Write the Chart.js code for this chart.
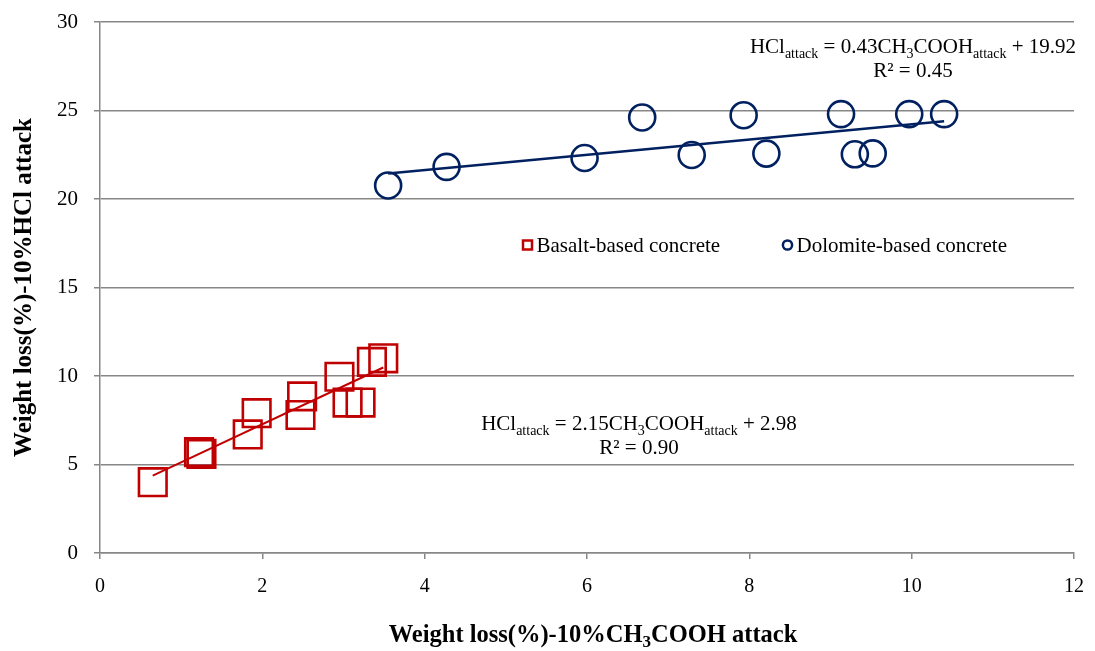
<!DOCTYPE html>
<html>
<head>
<meta charset="utf-8">
<script src="https://cdn.jsdelivr.net/npm/chart.js@4.4.0/dist/chart.umd.min.js"></script>
<style>
  html, body { margin: 0; padding: 0; background: #fff; overflow: hidden; }
  #wrap { width: 1100px; height: 651px; }
</style>
</head>
<body>
<div id="wrap"><canvas id="myChart"></canvas></div>
<script>
// weight loss (%) in 10% CH3COOH vs 10% HCl
const basaltX = [0.65, 1.22, 1.25, 1.82, 1.93, 2.47, 2.49, 2.95, 3.05, 3.21, 3.35, 3.49];
const basaltY = [4.0, 5.7, 5.6, 6.7, 7.9, 7.8, 8.85, 9.96, 8.5, 8.5, 10.8, 11.0];
const dolomiteX = [3.55, 4.27, 5.97, 6.68, 7.29, 7.93, 8.21, 9.13, 9.30, 9.52, 9.97, 10.4];
const dolomiteY = [20.77, 21.82, 22.32, 24.61, 22.49, 24.74, 22.57, 24.8, 22.53, 22.58, 24.8, 24.8];

// linear fits: [basalt, dolomite]
const fitSlope = [2.15, 0.43];
const fitIntercept = [2.98, 19.92];
const fitR2 = ["0.90", "0.45"];

const seriesNames = ["Basalt-based concrete", "Dolomite-based concrete"];
const seriesColors = ["#C00000", "#002060"];

const xMin = 0, xMax = 12, xStep = 2;
const yMin = 0, yMax = 30, yStep = 5;

const serif = "'Liberation Serif', 'Times New Roman', serif";
const gridGrey = "#878787";

function toPoints(xs, ys) {
  return xs.map((x, i) => ({ x: x, y: ys[i] }));
}

function fitLine(xs, k) {
  const a = Math.min(...xs), b = Math.max(...xs);
  return [
    { x: a, y: fitSlope[k] * a + fitIntercept[k] },
    { x: b, y: fitSlope[k] * b + fitIntercept[k] }
  ];
}

// draws text made of normal and subscript pieces, centred on cx
function drawRich(ctx, parts, cx, baseline, size, weight) {
  const big = (weight || "") + " " + size + "px " + serif;
  const small = (weight || "") + " " + Math.round(size * 0.68) + "px " + serif;
  let total = 0;
  parts.forEach(p => {
    ctx.font = p[1] ? small : big;
    total += ctx.measureText(p[0]).width;
  });
  let x = cx - total / 2;
  ctx.textAlign = "left";
  ctx.textBaseline = "alphabetic";
  parts.forEach(p => {
    ctx.font = p[1] ? small : big;
    ctx.fillText(p[0], x, baseline + (p[1] ? size * 0.22 : 0));
    x += ctx.measureText(p[0]).width;
  });
}

function equationParts(k) {
  return [
    ["HCl", false], ["attack", true],
    [" = " + fitSlope[k].toFixed(2) + "CH", false], ["3", true],
    ["COOH", false], ["attack", true],
    [" + " + fitIntercept[k].toFixed(2), false]
  ];
}

const annotations = {
  id: "annotations",
  afterDraw(chart) {
    const ctx = chart.ctx;
    ctx.save();
    ctx.fillStyle = "#000";

    // equations of the fits
    drawRich(ctx, equationParts(1), 913, 53, 21);
    drawRich(ctx, [["R² = " + fitR2[1], false]], 913, 77, 21);
    drawRich(ctx, equationParts(0), 639, 430, 21);
    drawRich(ctx, [["R² = " + fitR2[0], false]], 639, 454, 21);

    // legend inside plot
    const legendY = 245;
    const items = [
      { x: 527.5, style: "rect" },
      { x: 787.5, style: "circle" }
    ];
    items.forEach((it, k) => {
      ctx.strokeStyle = seriesColors[k];
      ctx.lineWidth = 2.5;
      ctx.beginPath();
      if (it.style === "rect") {
        ctx.rect(it.x - 4.5, legendY - 4.5, 9, 9);
      } else {
        ctx.arc(it.x, legendY, 4.6, 0, Math.PI * 2);
      }
      ctx.stroke();
      ctx.font = "21px " + serif;
      ctx.textAlign = "left";
      ctx.textBaseline = "middle";
      ctx.fillText(chart.data.datasets[k].label, it.x + 9, legendY + 1);
    });

    // x axis title with subscript
    const area = chart.chartArea;
    drawRich(ctx, [["Weight loss(%)-10%CH", false], ["3", true], ["COOH attack", false]],
      (area.left + area.right) / 2 + 6, 642, 24.5, "bold");
    ctx.restore();
  }
};

const data = {
  datasets: [
    {
      label: seriesNames[0],
      data: toPoints(basaltX, basaltY),
      pointStyle: "rect",
      pointRadius: 19.5,
      borderWidth: 2.6,
      borderColor: seriesColors[0],
      backgroundColor: "rgba(0,0,0,0)"
    },
    {
      label: seriesNames[1],
      data: toPoints(dolomiteX, dolomiteY),
      pointStyle: "circle",
      pointRadius: 13,
      borderWidth: 2.6,
      borderColor: seriesColors[1],
      backgroundColor: "rgba(0,0,0,0)"
    },
    {
      label: "fit basalt",
      data: fitLine(basaltX, 0),
      showLine: true,
      pointRadius: 0,
      borderWidth: 2,
      borderColor: seriesColors[0]
    },
    {
      label: "fit dolomite",
      data: fitLine(dolomiteX, 1),
      showLine: true,
      pointRadius: 0,
      borderWidth: 2.5,
      borderColor: seriesColors[1]
    }
  ]
};

const config = {
  type: "scatter",
  data: data,
  options: {
    responsive: true,
    maintainAspectRatio: false,
    animation: false,
    events: [],
    layout: { padding: { top: 20, right: 0, left: 0, bottom: 0 } },
    plugins: {
      legend: { display: false },
      tooltip: { enabled: false }
    },
    scales: {
      x: {
        type: "linear",
        min: xMin,
        max: xMax,
        afterFit: function(scale) {
          scale.height = 98;
        },
        ticks: {
          stepSize: xStep,
          padding: 16,
          color: "#000",
          font: { family: serif, size: 20 }
        },
        grid: {
          drawOnChartArea: false,
          drawTicks: true,
          tickLength: 6,
          color: gridGrey,
          lineWidth: 1.5
        },
        border: { color: gridGrey, width: 1.5 }
      },
      y: {
        type: "linear",
        min: yMin,
        max: yMax,
        afterFit: function(scale) {
          scale.width = 100;
          scale.paddingTop = 0;
          scale.paddingBottom = 0;
        },
        ticks: {
          stepSize: yStep,
          padding: 16,
          color: "#000",
          font: { family: serif, size: 21 }
        },
        grid: {
          drawTicks: true,
          tickLength: 6,
          color: gridGrey,
          lineWidth: 1.5
        },
        border: { color: gridGrey, width: 1.5 },
        title: {
          display: true,
          text: "Weight loss(%)-10%HCl attack",
          color: "#000",
          padding: { top: 10, bottom: 0 },
          font: { family: serif, size: 25, weight: "bold" }
        }
      }
    }
  },
  plugins: [annotations]
};

var myChart = new Chart(document.getElementById("myChart"), config);
</script>
</body>
</html>
